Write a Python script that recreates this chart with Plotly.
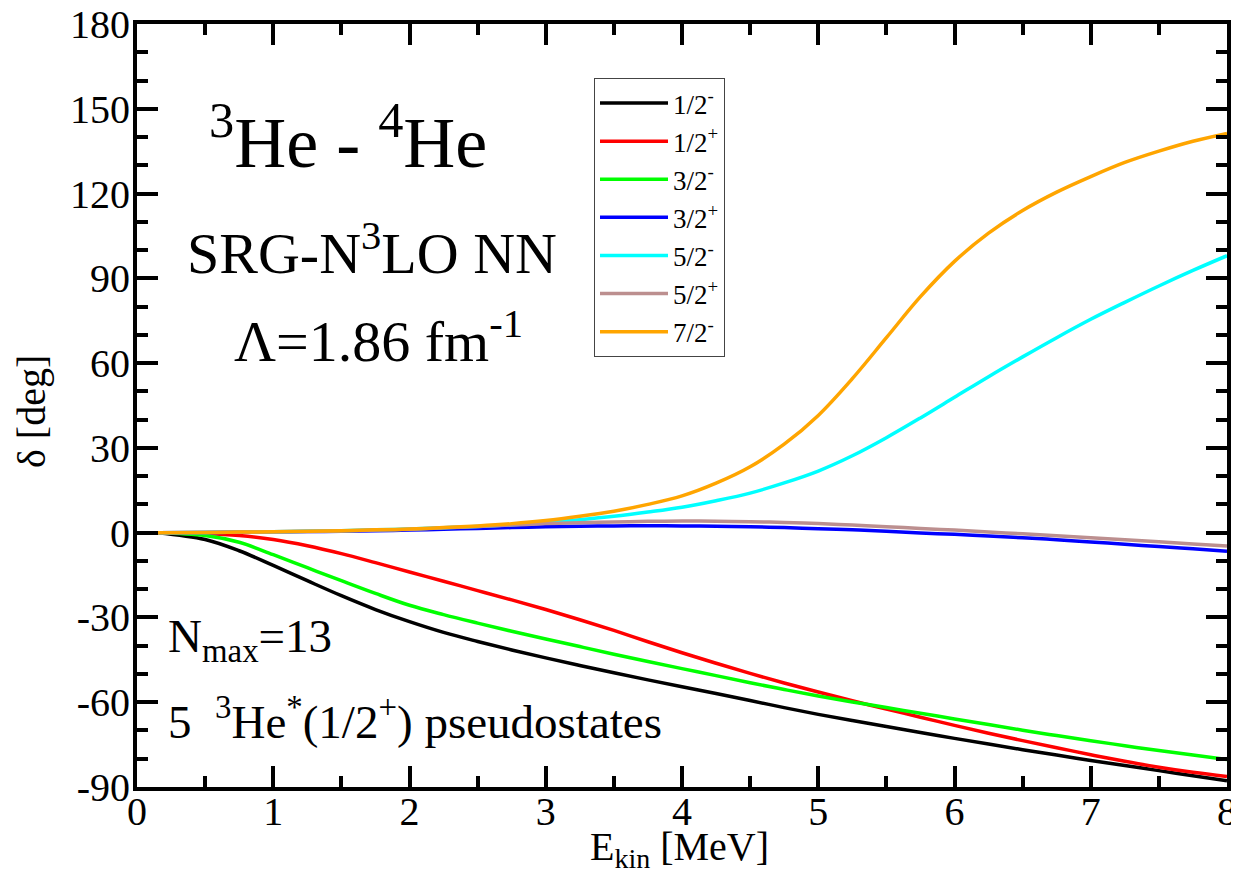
import plotly.graph_objects as go

# Energies (MeV)
E_kin = [0.15, 0.5, 0.75, 1.0, 1.25, 1.5, 1.75, 2.0, 2.25, 2.5, 2.75, 3.0, 3.25,
         3.5, 3.75, 4.0, 4.25, 4.5, 4.75, 5.0, 5.25, 5.5, 5.75, 6.0, 6.25, 6.5, 6.75,
         7.0, 7.25, 7.5, 7.75, 8.0]

# Phase shifts (deg)
d_1_2m = [0, -2.4, -6.4, -11.6, -17.0, -22.3, -27.2, -31.5, -35.3, -38.5, -41.5,
          -44.3, -47, -49.6, -52.1, -54.5, -56.9, -59.4, -61.9, -64.3, -66.5, -68.6,
          -70.7, -72.8, -74.8, -76.8, -78.7, -80.6, -82.4, -84.2, -86, -87.8]
d_1_2p = [0, -0.3, -1.0, -2.4, -4.6, -7.4, -10.6, -13.9, -17.2, -20.5, -23.8,
          -27.2, -30.8, -34.6, -38.6, -42.5, -46.2, -49.8, -53.2, -56.4, -59.5, -62.4,
          -65.3, -68.2, -71, -73.6, -76.1, -78.6, -80.9, -83, -84.8, -86.3]
d_3_2m = [0, -1.0, -3.4, -7.8, -12.4, -17, -21.5, -25.7, -29, -32, -34.9,
          -37.6, -40.3, -43, -45.6, -48.1, -50.6, -53.1, -55.5, -57.8, -59.9, -61.9,
          -63.9, -65.9, -67.9, -69.9, -71.8, -73.6, -75.4, -77.1, -78.7, -80.3]
d_3_2p = [0, 0.1, 0.2, 0.3, 0.4, 0.5, 0.7, 0.9, 1.2, 1.5, 1.8,
          2.1, 2.3, 2.4, 2.45, 2.4, 2.3, 2.1, 1.8, 1.4, 1.0, 0.5,
          -0.1, -0.6, -1.2, -1.8, -2.5, -3.3, -4.1, -4.9, -5.7, -6.6]
d_5_2m = [0, 0.1, 0.2, 0.3, 0.5, 0.7, 1.0, 1.3, 1.7, 2.2, 2.8,
          3.6, 4.6, 5.8, 7.3, 9, 11.3, 14, 17.6, 21.8, 27.2, 33.6,
          40.6, 47.9, 55.2, 62.2, 69, 75.5, 81.5, 87.3, 92.8, 98]
d_5_2p = [0, 0.1, 0.2, 0.3, 0.45, 0.6, 0.9, 1.2, 1.7, 2.2, 2.7,
          3.2, 3.5, 3.8, 4.0, 4.1, 4.05, 3.9, 3.6, 3.2, 2.7, 2.1,
          1.5, 0.9, 0.2, -0.4, -1.1, -1.8, -2.5, -3.2, -4.0, -4.7]
d_7_2m = [0, 0.1, 0.2, 0.3, 0.5, 0.7, 1.0, 1.3, 1.8, 2.4, 3.2,
          4.3, 5.8, 7.6, 10, 13, 17.5, 23.3, 31.3, 41.5, 54.5, 69,
          83.5, 96, 106, 114, 120.5, 126, 131, 135, 138.5, 141.3]

series_names = ["1/2<sup>-</sup>", "1/2<sup>+</sup>", "3/2<sup>-</sup>", "3/2<sup>+</sup>",
                "5/2<sup>-</sup>", "5/2<sup>+</sup>", "7/2<sup>-</sup>"]
series_values = [d_1_2m, d_1_2p, d_3_2m, d_3_2p, d_5_2m, d_5_2p, d_7_2m]
series_colors = ["#000000", "#ff0000", "#00ff00", "#0000ff", "#00ffff", "#bc8f8f", "#ffa500"]

x_ticks = [0, 1, 2, 3, 4, 5, 6, 7, 8]
x_ticktext = ["0", "1", "2", "3", "4", "5", "6", "7", "8"]
y_ticks = [-90, -60, -30, 0, 30, 60, 90, 120, 150, 180]
y_ticktext = ["-90", "-60", "-30", "0", "30", "60", "90", "120", "150", "180"]

FONT = "Liberation Serif, Times New Roman, serif"

# page offset of the figure (default body margin) and plot-area pixel geometry
OFF = 8
W, H = 1239 - OFF, 886 - OFF
L, R, T, B = 137, 1227, 24, 787
PW, PH = R - L, B - T


def px(x):
    return (x - L) / PW


def py(y):
    return (B - y) / PH


fig = go.Figure()
for name, vals, col in zip(series_names, series_values, series_colors):
    fig.add_trace(go.Scatter(x=E_kin, y=vals, name=name, mode="lines",
                             line=dict(color=col, width=3.5, shape="spline", smoothing=1.0)))

axis_common = dict(
    showline=True, linecolor="black", linewidth=4, mirror="allticks",
    ticks="inside", ticklen=21, tickwidth=4, tickcolor="black",
    showgrid=False, zeroline=False, automargin=False,
    ticklabeloverflow="allow",
    tickfont=dict(family=FONT, size=40, color="black"),
)

fig.update_xaxes(range=[0, 8], tickvals=x_ticks, ticktext=x_ticktext,
                 minor=dict(dtick=0.5, ticks="inside", ticklen=11, tickwidth=4, tickcolor="black"),
                 ticklabelstandoff=-14,
                 **axis_common)
fig.update_yaxes(range=[-90, 180], tickvals=y_ticks, ticktext=y_ticktext,
                 minor=dict(dtick=10, ticks="inside", ticklen=11, tickwidth=4, tickcolor="black"),
                 ticklabelstandoff=-5,
                 **axis_common)

ann_font_big = dict(family=FONT, size=72, color="black")
ann_font_mid = dict(family=FONT, size=58, color="black")
ann_font_small = dict(family=FONT, size=47, color="black")
title_font = dict(family=FONT, size=40, color="black")

fig.add_annotation(text="<sup>3</sup>He - <sup>4</sup>He", xref="paper", yref="paper",
                   x=px(348), y=py(137), xanchor="center", yanchor="middle",
                   showarrow=False, font=ann_font_big)
fig.add_annotation(text="SRG-N<sup>3</sup>LO NN", xref="paper", yref="paper",
                   x=px(372), y=py(249), xanchor="center", yanchor="middle",
                   showarrow=False, font=ann_font_mid)
fig.add_annotation(text="Λ=1.86 fm<sup>-1</sup>", xref="paper", yref="paper",
                   x=px(378), y=py(337), xanchor="center", yanchor="middle",
                   showarrow=False, font=ann_font_mid)
fig.add_annotation(text="N<sub>max</sub>=13", xref="paper", yref="paper",
                   x=px(166), y=py(639), xanchor="left", yanchor="middle",
                   showarrow=False, font=ann_font_small)
fig.add_annotation(text="5  <sup>3</sup>He<sup>*</sup>(1/2<sup>+</sup>) pseudostates",
                   xref="paper", yref="paper",
                   x=px(166), y=py(718), xanchor="left", yanchor="middle",
                   showarrow=False, font=ann_font_small)

# axis titles
fig.add_annotation(text="δ [deg]", xref="paper", yref="paper",
                   x=px(32), y=py(412), xanchor="center", yanchor="middle",
                   textangle=-90, showarrow=False, font=title_font)
fig.add_annotation(text="E<sub>kin</sub> [MeV]", xref="paper", yref="paper",
                   x=px(679), y=py(849), xanchor="center", yanchor="middle",
                   showarrow=False, font=title_font)

fig.update_layout(
    width=W, height=H,
    margin=dict(l=L - OFF, r=(W + OFF) - R, t=T - OFF, b=(H + OFF) - B),
    paper_bgcolor="white", plot_bgcolor="white",
    showlegend=True,
    legend=dict(x=px(594), y=py(78), xanchor="left", yanchor="top",
                bordercolor="#444", borderwidth=1, bgcolor="white",
                font=dict(family=FONT, size=27, color="black"),
                tracegroupgap=0, itemwidth=68),
)

fig.write_html("out.html")
